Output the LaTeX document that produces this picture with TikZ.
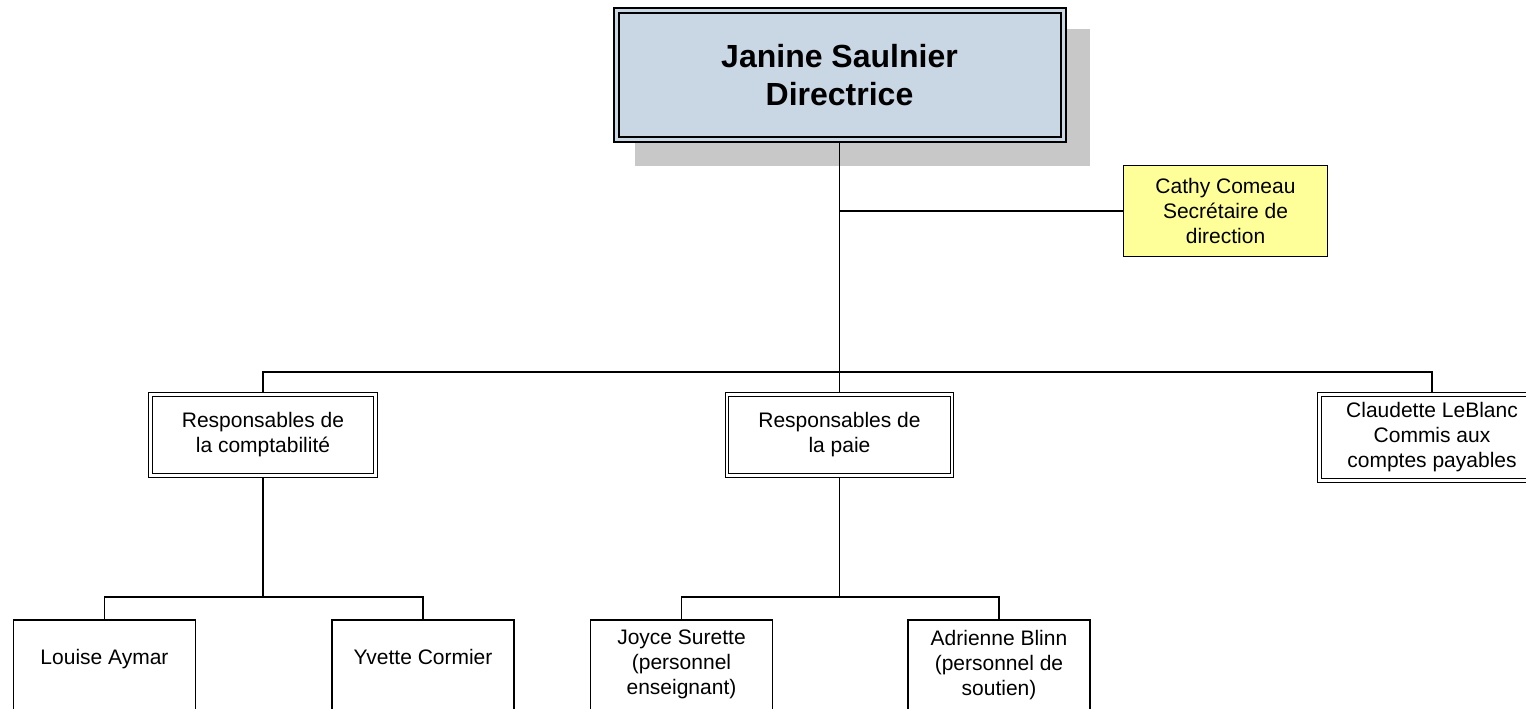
\documentclass[tikz,border=0pt]{standalone}
\usepackage{fontspec}
\setmainfont{Liberation Sans}
\usetikzlibrary{backgrounds}
\definecolor{dirblue}{HTML}{C9D6E4}
\definecolor{shadowgray}{HTML}{C8C8C8}
\definecolor{secyellow}{HTML}{FFFF99}
\tikzset{
  txt/.style={font=\fontsize{21}{25}\selectfont, align=center, inner sep=0pt, outer sep=0pt},
  dirbox/.style={draw=black, line width=2pt, double=dirblue, double distance=3pt, fill=dirblue,
    minimum width=447pt, minimum height=129pt, outer sep=0pt,
    font=\fontsize{32}{37.5}\selectfont\bfseries, align=center},
  secbox/.style={txt, draw=black, line width=1.4pt, fill=secyellow, minimum width=204pt, minimum height=91pt},
  midbox/.style={txt, draw=black, line width=1.2pt, double=white, double distance=2.4pt, fill=white,
    minimum width=225pt, minimum height=81pt},
  leafbox/.style={draw=black, line width=1.3pt, fill=white, minimum width=182pt, minimum height=150pt, outer sep=0pt, inner sep=0pt},
  conn/.style={draw=black, line width=1.3pt},
  shadowbox/.style={fill=shadowgray}
}
\begin{document}
\begin{tikzpicture}[x=1pt,y=-1pt]
\useasboundingbox (0,0) rectangle (1526,709);
\clip (0,0) rectangle (1526,709);
% nodes
\node[dirbox] (dir) at (839.5,75) {Janine Saulnier\\Directrice};
\node[secbox] (cathy) at (1225.5,211) {Cathy Comeau\\Secrétaire de\\direction};
\node[midbox] (comp) at (263,435) {Responsables de\\la comptabilité};
\node[midbox] (paie) at (839.5,435) {Responsables de\\la paie};
\node[midbox, minimum height=86.2pt] (claud) at (1432,437.5) {Claudette LeBlanc\\Commis aux\\comptes payables};
\node[leafbox, anchor=north] (louise) at (104.5,620) {};
\node[leafbox, anchor=north] (yvette) at (423,620) {};
\node[leafbox, anchor=north] (joyce) at (681.5,620) {};
\node[leafbox, anchor=north] (adrienne) at (999,620) {};
\node[txt, anchor=base] (lt) at (104.5,664) {Louise Aymar};
\node[txt, anchor=base] (yt) at (423,664) {Yvette Cormier};
\node[txt, anchor=north] (jt) at (681.5,630) {Joyce Surette\\(personnel\\enseignant)};
\node[txt, anchor=north] (at) at (999,630) {Adrienne Blinn\\(personnel de\\soutien)};
% coordinates of buses
\coordinate (bus1) at (839.5,372);
\coordinate (bus2) at (263,597);
\coordinate (bus3) at (839.5,597);
\begin{pgfonlayer}{background}
  \fill[shadowbox] (635,29) rectangle (1090,166);
  \draw[conn] (dir.south) -- (bus1);
  \draw[conn] (dir.south |- cathy.west) -- (cathy.west);
  \draw[conn] (comp.north) |- (bus1) -| (claud.north);
  \draw[conn] (bus1) -- (paie.north);
  \draw[conn] (comp.south) -- (bus2);
  \draw[conn] (louise.north) |- (bus2) -| (yvette.north);
  \draw[conn] (paie.south) -- (bus3);
  \draw[conn] (joyce.north) |- (bus3) -| (adrienne.north);
\end{pgfonlayer}
\end{tikzpicture}
\end{document}
